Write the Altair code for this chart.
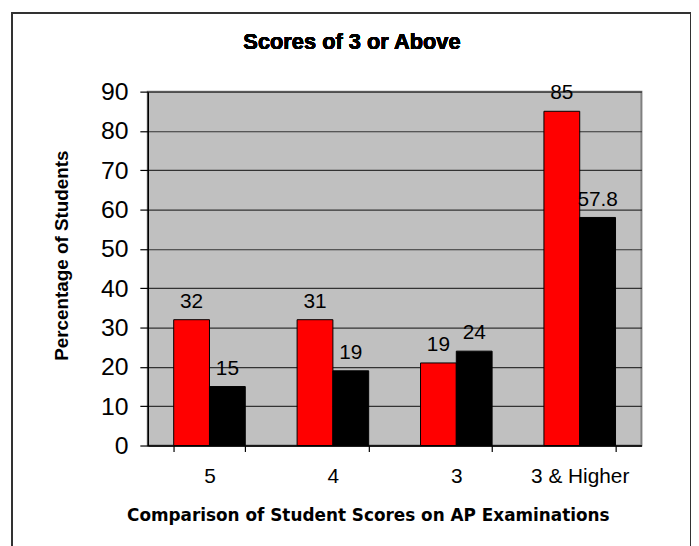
import altair as alt
import pandas as pd

categories = ["5", "4", "3", "3 & Higher"]
series_names = ["School", "National"]
school_values = [32, 32, 21, 85]
national_values = [15, 19, 24, 58]
school_labels = ["32", "31", "19", "85"]
national_labels = ["15", "19", "24", "57.8"]
colors = ["#FF0000", "#000000"]

rows = []
for i, c in enumerate(categories):
    rows.append({"cat": c, "series": series_names[0], "value": school_values[i], "label": school_labels[i]})
    rows.append({"cat": c, "series": series_names[1], "value": national_values[i], "label": national_labels[i]})
df = pd.DataFrame(rows)

FONT = "Liberation Sans"
W, H = 498, 357

x_enc = alt.X(
    "cat:N",
    sort=categories,
    scale=alt.Scale(paddingInner=0.42, paddingOuter=0.21),
    axis=alt.Axis(
        title="Comparison of Student Scores on AP Examinations",
        titleFont="DejaVu Sans", titleFontSize=17, titleFontWeight="bold", titleColor="#000",
        titleX=222, titleY=71, titleAlign="center", titleBaseline="middle",
        labelFont=FONT, labelFontSize=21, labelColor="#000", labelAngle=0,
        labelBaseline="middle", labelPadding=25,
        tickBand="extent", tickSize=6, tickColor="#000", tickWidth=1.2,
        domainColor="#000", domainWidth=1.5, grid=False,
    ),
)
y_enc = alt.Y(
    "value:Q",
    scale=alt.Scale(domain=[0, 90], nice=False, zero=True),
    axis=alt.Axis(
        title="Percentage of Students",
        titleFont=FONT, titleFontSize=19, titleFontWeight="bold", titleColor="#000",
        titleX=-87, titleY=165, titleAlign="center", titleBaseline="middle", titleAngle=-90,
        values=list(range(0, 100, 10)), labelOverlap=False,
        labelFont=FONT, labelFontSize=25, labelColor="#000", labelPadding=12,
        tickSize=8, tickColor="#000", tickWidth=1.2,
        domainColor="#000", domainWidth=1.5,
        grid=True, gridColor="#333333", gridWidth=1.2,
    ),
)
xo_enc = alt.XOffset("series:N", sort=series_names)

bars = alt.Chart(df).mark_bar(stroke="#000", strokeWidth=1).encode(
    x=x_enc,
    xOffset=xo_enc,
    y=y_enc,
    color=alt.Color("series:N", sort=series_names,
                    scale=alt.Scale(domain=series_names, range=colors), legend=None),
)

labels = alt.Chart(df).mark_text(
    font=FONT, fontSize=21, color="#000", baseline="alphabetic", align="center", dy=-12
).encode(
    x=x_enc,
    xOffset=xo_enc,
    y=y_enc,
    text="label:N",
)

frame = alt.Chart(df).mark_rect(fill="transparent", stroke="#333333", strokeWidth=1.5).encode(
    x=alt.value(12 - 149), x2=alt.value(697 - 149),
    y=alt.value(11 - 90), y2=alt.value(570 - 90),
)

title = alt.Chart(df).mark_text(
    text="Scores of 3 or Above", font=FONT, fontSize=22, fontWeight="bold",
    color="#000", align="center", baseline="middle"
).encode(x=alt.value(355 - 149), y=alt.value(40 - 90))

chart = alt.layer(bars, labels, frame, title).properties(
    width=W, height=H,
    autosize=alt.AutoSizeParams(type="none"),
    padding={"left": 141, "top": 82, "right": 50, "bottom": 100},
    background="white",
).configure_view(
    fill="#C0C0C0", stroke="#808080", strokeWidth=2
)

chart.save("out.html", embed_options={"renderer": "svg", "actions": False})
